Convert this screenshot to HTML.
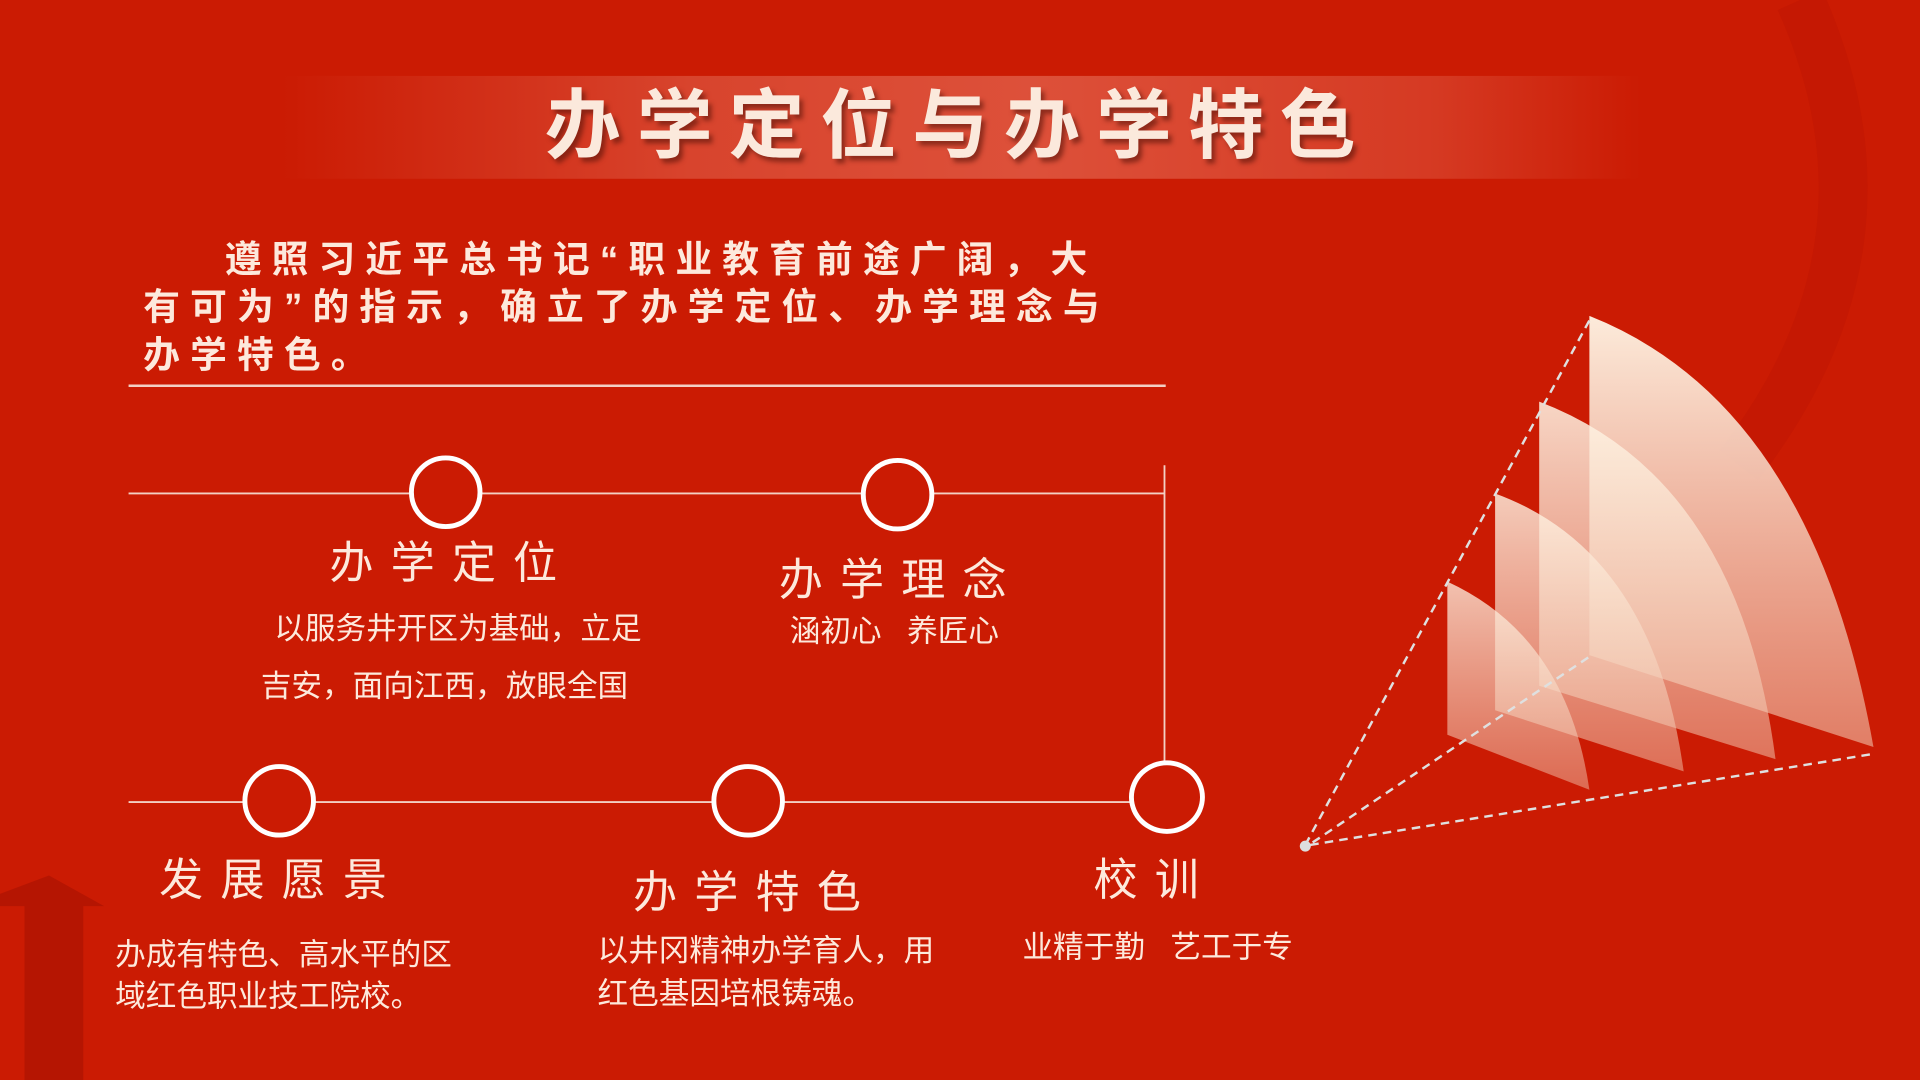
<!DOCTYPE html>
<html><head><meta charset="utf-8"><style>
html,body{margin:0;padding:0;width:1920px;height:1080px;overflow:hidden;background:#cb1b03}
#w{position:absolute;left:0;top:0;width:1568px;height:882px;transform:scale(1.22449);transform-origin:0 0;background:#cb1b03;font-family:"Liberation Sans","Noto Sans CJK SC",sans-serif;color:#fff;overflow:hidden}
.a{position:absolute;white-space:nowrap}
.band{position:absolute;left:230px;top:62px;width:1110px;height:84px;background:linear-gradient(90deg,rgba(255,200,180,0) 0%,rgba(255,190,170,.25) 30%,rgba(255,180,160,.35) 55%,rgba(255,180,160,.2) 85%,rgba(255,180,160,0) 100%)}
.title{left:445px;top:52px;font-size:62px;font-weight:bold;letter-spacing:13px;color:#fbe9dc;text-shadow:3px 4px 4px rgba(90,20,10,.6)}
.intro{left:117px;top:193px;font-size:30px;font-weight:bold;letter-spacing:8.3px;line-height:39px;color:#fde9dc}
.c{position:absolute;width:54px;height:54px;border:4px solid #fff;border-radius:50%;box-sizing:border-box;background:#cb1b03}
.h{font-size:36px;letter-spacing:14px;color:#fde9dc}
.t{font-size:25px;color:#fde9dc}
</style></head><body><div id="w">
<svg class="a" style="left:0;top:0" width="1568" height="882">
<path d="M1470 0 Q1560 200 1420 380" stroke="#b81502" stroke-width="40" fill="none" opacity=".3"/>
<path d="M0 730 L40 715 L85 740 L68 740 L68 882 L20 882 L20 740 L0 740Z" fill="#b51502"/>
<defs><linearGradient id="g" x1="0" y1="0" x2="0" y2="1"><stop offset="0" stop-color="#fff6e6" stop-opacity=".95"/><stop offset="1" stop-color="#f0c0a8" stop-opacity=".6"/></linearGradient></defs>
<path d="M1298 258 Q1480 330 1530 610 L1298 535Z" fill="url(#g)"/>
<path d="M1257 328 Q1420 390 1450 620 L1257 560Z" fill="url(#g)" opacity=".9"/>
<path d="M1221 403 Q1350 450 1375 630 L1221 580Z" fill="url(#g)" opacity=".85"/>
<path d="M1182 475 Q1280 520 1298 645 L1182 600Z" fill="url(#g)" opacity=".8"/>
<g stroke="#dfe0e0" stroke-width="2" stroke-dasharray="7,5" fill="none">
<line x1="1066" y1="690" x2="1300" y2="258"/><line x1="1070" y1="690" x2="1528" y2="616"/><line x1="1072" y1="688" x2="1300" y2="535"/></g>
<circle cx="1066" cy="691" r="4.5" fill="#ddd"/>
<g stroke="#f3d0c4" stroke-width="1.5"><line x1="105" y1="315" x2="952" y2="315" stroke-width="2"/>
<line x1="105" y1="403" x2="951" y2="403"/><line x1="951" y1="380" x2="951" y2="625"/><line x1="105" y1="655" x2="925" y2="655"/></g>
</svg>
<div class="band"></div>
<div class="a title">办学定位与办学特色</div>
<div class="a intro">&nbsp;&nbsp;&nbsp;&nbsp;遵照习近平总书记“职业教育前途广阔，大<br>有可为”的指示，确立了办学定位、办学理念与<br>办学特色。</div>
<div class="c" style="left:334px;top:372px;width:60px;height:60px"></div>
<div class="c" style="left:703px;top:374px;width:60px;height:60px"></div>
<div class="c" style="left:198px;top:624px;width:60px;height:60px"></div>
<div class="c" style="left:581px;top:624px;width:60px;height:60px"></div>
<div class="c" style="left:922px;top:621px;width:62px;height:60px"></div>
<div class="a h" style="left:269px;top:431px">办学定位</div>
<div class="a t" style="left:224px;top:494px">以服务井开区为基础，立足</div>
<div class="a t" style="left:213px;top:541px">吉安，面向江西，放眼全国</div>
<div class="a h" style="left:636px;top:445px">办学理念</div>
<div class="a t" style="left:645px;top:496px">涵初心&nbsp;&nbsp;&nbsp;养匠心</div>
<div class="a h" style="left:130px;top:690px">发展愿景</div>
<div class="a t" style="left:94px;top:760px">办成有特色、高水平的区</div>
<div class="a t" style="left:94px;top:794px">域红色职业技工院校。</div>
<div class="a h" style="left:517px;top:700px">办学特色</div>
<div class="a t" style="left:488px;top:757px">以井冈精神办学育人，用</div>
<div class="a t" style="left:488px;top:792px">红色基因培根铸魂。</div>
<div class="a h" style="left:893px;top:690px">校训</div>
<div class="a t" style="left:835px;top:754px">业精于勤&nbsp;&nbsp;&nbsp;艺工于专</div>
</div></body></html>
